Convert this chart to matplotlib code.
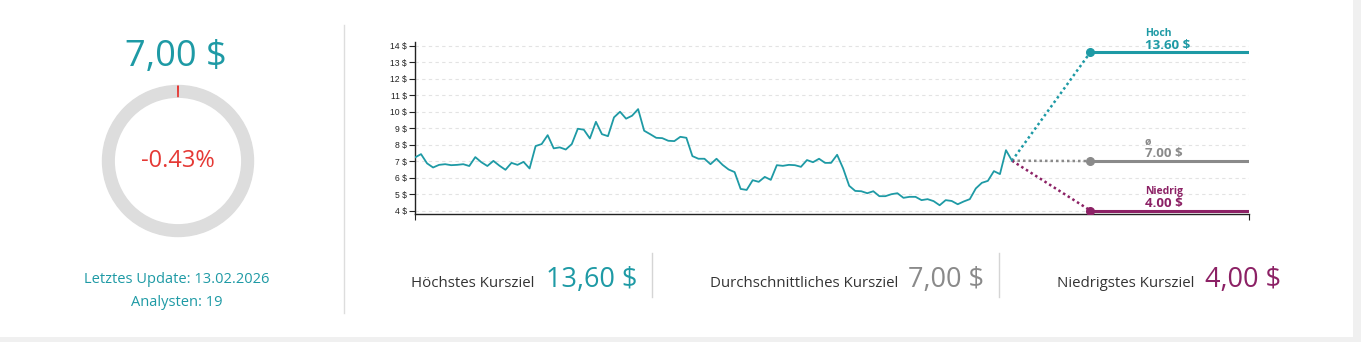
import matplotlib.pyplot as plt
from matplotlib.patches import Wedge, Rectangle

# price history (weekly)
kurs = [7.22, 7.42, 6.86, 6.61, 6.77, 6.81, 6.75, 6.77, 6.81, 6.70,
        7.24, 6.93, 6.70, 7.01, 6.72, 6.47, 6.89, 6.77, 6.95, 6.55,
        7.91, 8.03, 8.57, 7.77, 7.83, 7.70, 8.03, 8.96, 8.90, 8.37,
        9.38, 8.63, 8.51, 9.65, 9.99, 9.57, 9.75, 10.15, 8.84, 8.63,
        8.41, 8.39, 8.23, 8.21, 8.47, 8.41, 7.30, 7.14, 7.14, 6.81,
        7.14, 6.77, 6.49, 6.33, 5.31, 5.25, 5.84, 5.74, 6.04, 5.86,
        6.75, 6.71, 6.77, 6.75, 6.65, 7.06, 6.93, 7.14, 6.89, 6.89,
        7.38, 6.55, 5.50, 5.19, 5.17, 5.05, 5.17, 4.87, 4.87, 4.99,
        5.05, 4.77, 4.83, 4.83, 4.63, 4.69, 4.57, 4.32, 4.63, 4.58,
        4.38, 4.55, 4.69, 5.34, 5.68, 5.80, 6.39, 6.21, 7.66, 7.02]

ziel_namen = ['Hoch', 'ø', 'Niedrig']
ziel_werte = [13.60, 7.00, 4.00]
ziel_labels = ['Höchstes Kursziel', 'Durchschnittliches Kursziel', 'Niedrigstes Kursziel']
y_ticks = [4, 5, 6, 7, 8, 9, 10, 11, 12, 13, 14]

kurs_aktuell = 7.00
veraenderung = -0.43
letztes_update = '13.02.2026'
analysten = 19

TEAL = '#1e9aa5'
GRAU = '#8a8a8a'
LILA = '#8c2165'
ROT = '#e53935'
ziel_farben = [TEAL, GRAU, LILA]

W, H = 1361, 342
plt.rcParams['font.family'] = ['Open Sans', 'DejaVu Sans']

fig = plt.figure(figsize=(W / 100, H / 100), dpi=100, facecolor='#f0f0f0')


def fx(px):
    return px / W


def fy(py):
    return 1 - py / H


def de(v):
    return f'{v:.2f}'.replace('.', ',') + ' $'


# white card
fig.add_artist(Rectangle((0, fy(337)), fx(1353), 1 - fy(337), transform=fig.transFigure,
                         facecolor='white', edgecolor='none', zorder=0))

# left block
fig.text(fx(176), fy(66), de(kurs_aktuell), color=TEAL, fontsize=26, ha='center', va='baseline')

ax_d = fig.add_axes([fx(178 - 80), fy(161 + 80), fx(160), 160 / H])
ax_d.set_xlim(-80, 80)
ax_d.set_ylim(-80, 80)
ax_d.set_aspect('equal')
ax_d.axis('off')
ax_d.add_patch(Wedge((0, 0), 75.5, 0, 360, width=11.7, color='#dddddd'))
winkel = 360 * abs(veraenderung) / 100
ax_d.add_patch(Wedge((0, 0), 75.5, 90 - winkel / 2, 90 + winkel / 2, width=11.7,
                     color=ROT, lw=0))
ax_d.text(0, 0, f'{veraenderung:.2f}%', color=ROT, fontsize=17, ha='center', va='center')

fig.text(fx(177), fy(283), f'Letztes Update: {letztes_update}', color=TEAL, fontsize=10.5,
         ha='center', va='baseline')
fig.text(fx(177), fy(306), f'Analysten: {analysten}', color=TEAL, fontsize=10.5,
         ha='center', va='baseline')

# separators
fig.add_artist(plt.Line2D([fx(344), fx(344)], [fy(25), fy(313)], color='#dddddd', lw=1))
for sx in [652, 999]:
    fig.add_artist(plt.Line2D([fx(sx), fx(sx)], [fy(253), fy(297)], color='#d5d5d5', lw=1))

# bottom row
label_x = [411, 710, 1057]
wert_x = [546, 908, 1205]
for lab, lx, wx, v, c in zip(ziel_labels, label_x, wert_x, ziel_werte, ziel_farben):
    fig.text(fx(lx), fy(287), lab, color='#333333', fontsize=10.8, ha='left', va='baseline')
    fig.text(fx(wx), fy(287), de(v), color=c, fontsize=19.5, ha='left', va='baseline')

# chart
ax = fig.add_axes([fx(415), fy(213.5), fx(1249 - 415), (213.5 - 41.5) / H])
n = len(kurs)
x = list(range(n))
letzter = n - 1
ziel_x = letzter + 13
x_max = letzter + 39.3

ax.plot(x, kurs, color=TEAL, lw=1.3, zorder=3)
for name, v, c in zip(ziel_namen, ziel_werte, ziel_farben):
    ax.plot([letzter, ziel_x], [kurs[-1], v], color=c, lw=1.8, linestyle=(0, (1, 1.2)), zorder=2)
    ax.plot([ziel_x, x_max], [v, v], color=c, lw=2.2, zorder=2, solid_capstyle='butt')
    ax.plot(ziel_x, v, 'o', color=c, ms=5.5, zorder=4)
    ax.annotate(name, (letzter + 22, v), xytext=(0, 12), textcoords='offset points',
                color=c, fontsize=7.5, fontweight='bold', ha='left', va='baseline',
                annotation_clip=False)
    ax.annotate(f'{v:.2f} $', (letzter + 22, v), xytext=(0, 2.6), textcoords='offset points',
                color=c, fontsize=9.5, fontweight='bold', ha='left', va='baseline',
                annotation_clip=False)

ax.set_xlim(0, x_max)
ax.set_ylim(3.82, 14.25)
ax.set_yticks(y_ticks)
ax.set_yticklabels([f'{t} $' for t in y_ticks], fontsize=6.2, family=['Liberation Sans'], color='#222222')
ax.set_xticks([0, x_max])
ax.set_xticklabels([])
ax.tick_params(axis='both', length=4, width=0.8, pad=2, color='#222222')
ax.yaxis.grid(True, linestyle=(0, (3, 3)), color='#e3e3e3', lw=0.8)
ax.set_axisbelow(True)
for s in ['top', 'right']:
    ax.spines[s].set_visible(False)
for s in ['left', 'bottom']:
    ax.spines[s].set_color('#222222')
    ax.spines[s].set_linewidth(1)
ax.set_facecolor('none')

fig.savefig('out.png', dpi=100, facecolor=fig.get_facecolor())
